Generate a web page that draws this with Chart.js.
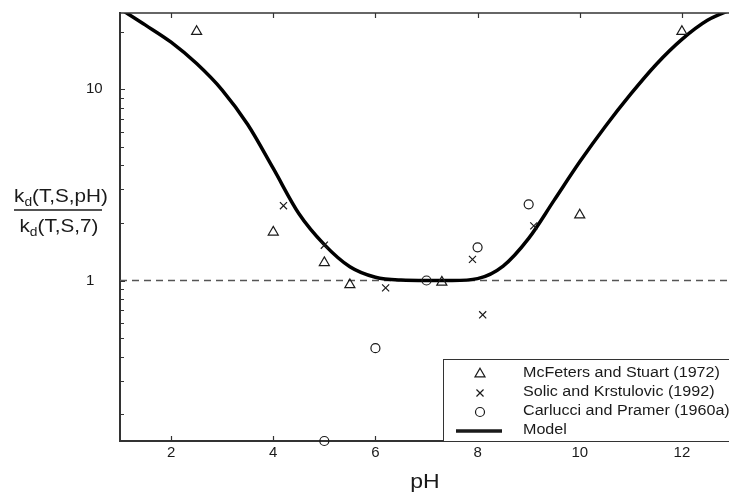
<!DOCTYPE html>
<html>
<head>
<meta charset="utf-8">
<script src="https://cdn.jsdelivr.net/npm/chart.js@4.4.1/dist/chart.umd.min.js"></script>
<style>
  html, body { margin: 0; padding: 0; background: #fff; overflow: hidden; }
  #wrap { position: relative; width: 740px; height: 493px; }
</style>
</head>
<body>
<div id="wrap"><canvas id="myChart"></canvas></div>
<script>
// McFeters and Stuart (1972)
let mcfPH = [2.5, 4, 5, 5.5, 7.3, 10, 12];
let mcfK = [20, 1.79, 1.24, 0.95, 0.98, 2.2, 20];
// Solic and Krstulovic (1992)
let solPH = [4.2, 5, 6.2, 7.9, 8.1, 9.1];
let solK = [2.46, 1.53, 0.915, 1.29, 0.662, 1.93];
// Carlucci and Pramer (1960a)
let carPH = [5, 6, 7, 8, 9];
let carK = [0.145, 0.443, 1.0, 1.49, 2.5];
// model curve
let modelPH = [1, 1.5, 2, 2.5, 3, 3.5, 4, 4.5, 5, 5.5, 6, 6.5, 7, 7.5, 8, 8.5, 9, 9.5, 10, 10.5, 11, 11.5, 12, 12.5, 13];
let modelK = [26.3, 21.6, 17.6, 13.6, 9.89, 6.53, 3.85, 2.24, 1.54, 1.18, 1.04, 1.005, 1.0, 1.0, 1.023, 1.19, 1.66, 2.63, 4.17, 6.38, 9.44, 13.5, 18.2, 22.9, 26.3];
// dashed line at ratio 1
let refPH = [1, 13];
let refK = [1, 1];

let xTicks = [2, 4, 6, 8, 10, 12];
let yTicks = [0.2, 0.3, 0.4, 0.5, 0.6, 0.7, 0.8, 0.9, 1, 2, 3, 4, 5, 6, 7, 8, 9, 10, 20];
let yLabels = [1, 10];
let seriesNames = ["McFeters and Stuart (1972)", "Solic and Krstulovic (1992)", "Carlucci and Pramer (1960a)", "Model"];

let ink = "#1a1a1a";
let fontFam = '"Liberation Sans", Arial, Helvetica, sans-serif';
let stretch = 1.15;

function toPoints(xs, ys) {
  return xs.map((x, i) => ({ x: x, y: ys[i] }));
}

function markerSet(label, xs, ys, style, radius) {
  return {
    type: "scatter",
    label: label,
    data: toPoints(xs, ys),
    pointStyle: style,
    pointRadius: radius,
    pointHoverRadius: radius,
    pointBorderColor: ink,
    pointBackgroundColor: "rgba(0,0,0,0)",
    pointBorderWidth: 1.2,
    clip: false,
  };
}

function wideText(ctx, txt, x, y) {
  ctx.save();
  ctx.translate(x, y);
  ctx.scale(stretch, 1);
  ctx.fillText(txt, 0, 0);
  ctx.restore();
  return ctx.measureText(txt).width * stretch;
}

// k_d(...) with subscript, centred on cx
function drawKd(ctx, rest, cx, base) {
  let big = "18px " + fontFam, small = "12px " + fontFam;
  ctx.font = big;
  let wk = ctx.measureText("k").width * stretch;
  let wr = ctx.measureText(rest).width * stretch;
  ctx.font = small;
  let wd = ctx.measureText("d").width * stretch;
  let x = cx - (wk + wd + wr) / 2;
  ctx.font = big;
  x += wideText(ctx, "k", x, base);
  ctx.font = small;
  x += wideText(ctx, "d", x, base + 4);
  ctx.font = big;
  wideText(ctx, rest, x, base);
}

let framePlugin = {
  id: "frame",
  afterDraw(chart) {
    let { ctx, chartArea: a, scales } = chart;
    let xs = scales.x, ys = scales.y;
    ctx.save();
    ctx.strokeStyle = "#333";
    // top frame line
    ctx.lineWidth = 1.5;
    ctx.beginPath();
    ctx.moveTo(a.left, a.top);
    ctx.lineTo(a.right, a.top);
    ctx.stroke();
    // inward tick marks
    ctx.lineWidth = 1.2;
    ctx.beginPath();
    xs.ticks.forEach((t) => {
      let px = Math.round(xs.getPixelForValue(t.value)) + 0.5;
      ctx.moveTo(px, a.bottom);
      ctx.lineTo(px, a.bottom - 5);
      ctx.moveTo(px, a.top);
      ctx.lineTo(px, a.top + 5);
    });
    ys.ticks.forEach((t) => {
      let py = Math.round(ys.getPixelForValue(t.value)) + 0.5;
      ctx.moveTo(a.left, py);
      ctx.lineTo(a.left + (yLabels.includes(t.value) ? 5 : 4), py);
    });
    ctx.stroke();

    // legend box
    let lx = 443, ly = 359;
    ctx.fillStyle = "#fff";
    ctx.fillRect(lx, ly, a.right - lx + 10, a.bottom - ly);
    ctx.lineWidth = 1;
    ctx.strokeStyle = "#333";
    ctx.strokeRect(lx + 0.5, ly + 0.5, a.right - lx + 10, a.bottom - ly);
    ctx.font = "14px " + fontFam;
    ctx.textBaseline = "middle";
    ctx.textAlign = "left";
    chart.data.datasets.slice(0, 4).forEach((ds, i) => {
      let cy = 373 + i * 19;
      ctx.strokeStyle = ink;
      ctx.fillStyle = "rgba(0,0,0,0)";
      if (ds.type === "scatter") {
        ctx.lineWidth = ds.pointBorderWidth;
        Chart.helpers.drawPoint(ctx, { pointStyle: ds.pointStyle, radius: ds.pointRadius, borderWidth: ds.pointBorderWidth, rotation: 0 }, 480, cy + 1);
      } else {
        ctx.lineWidth = ds.borderWidth;
        ctx.beginPath();
        ctx.moveTo(456, cy + 1);
        ctx.lineTo(502, cy + 1);
        ctx.stroke();
      }
      ctx.fillStyle = ink;
      wideText(ctx, ds.label, 523, cy);
    });

    // axis titles
    ctx.fillStyle = ink;
    ctx.textBaseline = "alphabetic";
    drawKd(ctx, "(T,S,pH)", 61, 202);
    drawKd(ctx, "(T,S,7)", 59, 232);
    ctx.lineWidth = 1.5;
    ctx.strokeStyle = ink;
    ctx.beginPath();
    ctx.moveTo(14, 210);
    ctx.lineTo(102, 210);
    ctx.stroke();
    ctx.font = "20px " + fontFam;
    let w = ctx.measureText("pH").width * stretch;
    wideText(ctx, "pH", 425 - w / 2, 488);
    ctx.restore();
  },
};

let ctx = document.getElementById("myChart").getContext("2d");
let myChart = new Chart(ctx, {
  type: "scatter",
  data: {
    datasets: [
      markerSet(seriesNames[0], mcfPH, mcfK, "triangle", 5.8),
      markerSet(seriesNames[1], solPH, solK, "crossRot", 5),
      markerSet(seriesNames[2], carPH, carK, "circle", 4.5),
      {
        type: "line",
        label: seriesNames[3],
        data: toPoints(modelPH, modelK),
        borderColor: "#000",
        borderWidth: 3.5,
        pointRadius: 0,
        cubicInterpolationMode: "monotone",
        fill: false,
      },
      {
        type: "line",
        label: "ref",
        data: toPoints(refPH, refK),
        borderColor: "#555",
        borderWidth: 1.3,
        borderDash: [7, 5],
        pointRadius: 0,
        fill: false,
      },
    ],
  },
  options: {
    responsive: true,
    maintainAspectRatio: false,
    animation: false,
    layout: { padding: { top: 13, right: 4, left: 86, bottom: 0 } },
    plugins: { legend: { display: false }, tooltip: { enabled: false } },
    scales: {
      x: {
        type: "linear",
        min: 1,
        max: 13,
        afterBuildTicks: (s) => { s.ticks = xTicks.map((v) => ({ value: v })); },
        afterFit: (s) => { s.height = 52; },
        grid: { display: true, drawOnChartArea: false, drawTicks: false },
        border: { display: true, color: "#333", width: 2 },
        ticks: { color: ink, font: { size: 15, family: fontFam }, padding: 3, autoSkip: false, maxRotation: 0 },
      },
      y: {
        type: "logarithmic",
        min: 0.145,
        max: 25,
        afterBuildTicks: (s) => { s.ticks = yTicks.map((v) => ({ value: v, major: yLabels.includes(v) })); },
        afterFit: (s) => { s.width = 34; },
        grid: { display: true, drawOnChartArea: false, drawTicks: false },
        border: { display: true, color: "#333", width: 2 },
        ticks: {
          color: ink,
          font: { size: 15, family: fontFam },
          padding: 0,
          crossAlign: "far",
          autoSkip: false,
          callback: (v) => (yLabels.includes(v) ? String(v) : ""),
        },
      },
    },
  },
  plugins: [framePlugin],
});
</script>
</body>
</html>
